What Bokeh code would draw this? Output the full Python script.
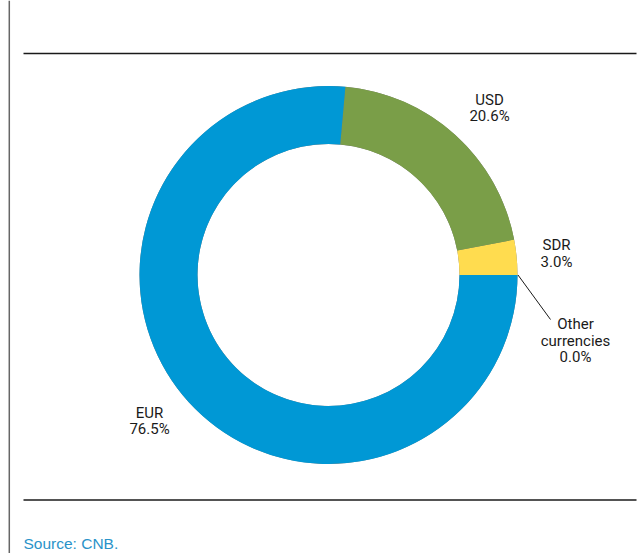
import math
from bokeh.plotting import figure
from bokeh.models import Range1d, ColumnDataSource, Span
from bokeh.core.properties import value
from bokeh.embed import file_html
from bokeh.resources import INLINE

# ---- data ----
categories = ["Other currencies", "SDR", "USD", "EUR"]
shares = [0.0, 3.0, 20.6, 76.5]
colors = ["#7a7a7a", "#ffdc4f", "#7a9e48", "#0098d5"]
label_lines = [["Other", "currencies", "0.0%"], ["SDR", "3.0%"], ["USD", "20.6%"], ["EUR", "76.5%"]]

W, H = 644, 553
TEXT_SHIFT = 5  # renderer places alphabetic baseline slightly lower

def py(pix):  # picture pixel y -> data y
    return H - pix

p = figure(width=W, height=H, output_backend="svg", toolbar_location=None,
           x_range=Range1d(0, W), y_range=Range1d(0, H),
           min_border=0, outline_line_color=None, background_fill_color="white")
p.axis.visible = False
p.grid.visible = False

# donut
total = sum(shares)
starts, ends = [], []
acc = 0.0
for s in shares:
    starts.append(2 * math.pi * acc / total)
    acc += s
    ends.append(2 * math.pi * acc / total)
src = ColumnDataSource(dict(cat=categories, start=starts, end=ends, color=colors))
cx, cy = 328, py(274.5)
p.annular_wedge(x=cx, y=cy, inner_radius=131, outer_radius=189,
                start_angle="start", end_angle="end", fill_color="color",
                line_color=None, source=src)

# labels
label_pos = {
    "Other currencies": (575, [328, 345, 361.5]),
    "SDR": (556, [249.5, 266]),
    "USD": (489, [104, 120.5]),
    "EUR": (149, [417, 433.5]),
}
lx, ly, lt = [], [], []
for cat, lines in zip(categories, label_lines):
    x, ys = label_pos[cat]
    for t, yy in zip(lines, ys):
        lx.append(x); ly.append(py(yy - TEXT_SHIFT)); lt.append(t)
p.text(x=lx, y=ly, text=lt, text_align="center", text_baseline="alphabetic",
       text_font=value("Roboto"), text_font_size="15px", text_color="#1a1a1a")

# leader line for "Other currencies"
p.line(x=[517.5, 550], y=[py(274.5), py(319)], line_color="#1a1a1a", line_width=1)

# frame lines
p.line(x=[23, 636], y=[py(53), py(53)], line_color="#1a1a1a", line_width=1.4)
p.line(x=[23, 636], y=[py(499.5), py(499.5)], line_color="#1a1a1a", line_width=1.4)
p.add_layout(Span(location=8.8, dimension="height", line_color="#666666", line_width=1.5))

# source
p.text(x=[23], y=[py(547.5 - TEXT_SHIFT)], text=["Source: CNB."], text_align="left",
       text_baseline="alphabetic", text_font=value("Liberation Sans"), text_font_size="15.5px",
       text_color="#2a93c9")

open("out.html", "w").write(file_html(p, INLINE))
